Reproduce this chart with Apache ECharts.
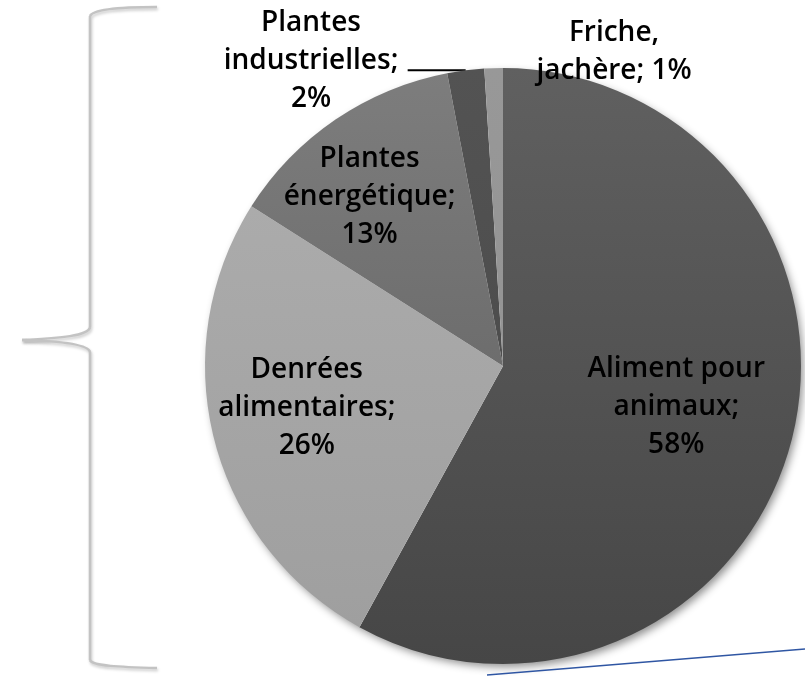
<!DOCTYPE html>
<html>
<head>
<meta charset="utf-8">
<script src="https://cdn.jsdelivr.net/npm/echarts@6/dist/echarts.min.js"></script>
<style>
html,body{margin:0;padding:0;background:#fff;}
#chart{width:805px;height:676px;}
</style>
</head>
<body>
<div id="chart"></div>
<script>
// ---- data ----
const categories = ['Aliment pour\nanimaux', 'Denrées\nalimentaires', 'Plantes\nénergétique', 'Plantes\nindustrielles', 'Friche,\njachère'];
const values = [58, 26, 13, 2, 1];

// ---- styles ----
function vgrad(top, bottom) {
  return { type: 'linear', x: 0, y: 0, x2: 0, y2: 1, colorStops: [
    { offset: 0, color: top }, { offset: 1, color: bottom }
  ] };
}
const sliceColors = [
  vgrad('#606060', '#464646'),
  vgrad('#ababab', '#9f9f9f'),
  vgrad('#7d7d7d', '#6d6d6d'),
  vgrad('#535353', '#4d4d4d'),
  vgrad('#989898', '#949494')
];
const labelOffsets = [[26, 3], [-49, 4], [-48, -43], [0, 0], [0, 0]];

const pieCenter = [503, 366];
const pieRadius = 298;

const chart = echarts.init(document.getElementById('chart'), null, { renderer: 'canvas' });

const dataItems = categories.map((c, i) => {
  const item = {
    name: c,
    value: values[i],
    itemStyle: { color: sliceColors[i] },
    label: { offset: labelOffsets[i] }
  };
  if (i >= 3) {
    item.label = { position: 'outside' };
    item.labelLine = { show: i === 3, length: 1, length2: 1, lineStyle: { color: '#000', width: 2 } };
  } else {
    item.labelLine = { show: false };
  }
  return item;
});

const total = values.reduce((a, b) => a + b, 0);

const braceStyle = {
  fill: 'none',
  stroke: '#c3c3c3',
  lineWidth: 2.5,
  shadowColor: 'rgba(0,0,0,0.22)',
  shadowBlur: 3,
  shadowOffsetX: 1,
  shadowOffsetY: 2
};

chart.setOption({
  animation: false,
  backgroundColor: '#ffffff',
  series: [
    {
      type: 'pie',
      silent: true,
      center: pieCenter,
      radius: pieRadius - 1,
      z: 1,
      label: { show: false },
      labelLine: { show: false },
      itemStyle: {
        color: '#ffffff',
        shadowColor: 'rgba(0,0,0,0.45)',
        shadowBlur: 9,
        shadowOffsetX: 3,
        shadowOffsetY: 4
      },
      data: [{ value: total, name: '' }]
    },
    {
      type: 'pie',
      silent: true,
      center: pieCenter,
      radius: pieRadius,
      startAngle: 90,
      clockwise: true,
      z: 2,
      avoidLabelOverlap: false,
      itemStyle: { borderWidth: 0 },
      emphasis: { disabled: true },
      label: {
        show: true,
        position: 'inside',
        color: '#000',
        fontFamily: 'Open Sans',
        fontWeight: 600,
        fontSize: 28,
        lineHeight: 38,
        align: 'center',
        formatter: function (p) {
          if (p.dataIndex === 4) return p.name + '; ' + p.value + '%';
          return p.name + ';\n' + p.value + '%';
        }
      },
      labelLayout: function (p) {
        if (p.dataIndex === 3) {
          const pts = p.labelLinePoints;
          const p0 = pts ? pts[0] : [465, 70];
          return {
            x: 311, y: 61, align: 'center', verticalAlign: 'middle',
            labelLinePoints: [[p0[0], p0[1]], [p0[0] - 58, p0[1]], [p0[0] - 58, p0[1]]]
          };
        }
        if (p.dataIndex === 4) {
          return { x: 614, y: 52, align: 'center', verticalAlign: 'middle' };
        }
      },
      data: dataItems
    }
  ],
  graphic: [
    { type: 'bezierCurve', z: 10, silent: true,
      shape: { x1: 157, y1: 7, cpx1: 120, cpy1: 7, cpx2: 93, cpy2: 9, x2: 90, y2: 16 }, style: braceStyle },
    { type: 'line', z: 10, silent: true,
      shape: { x1: 90, y1: 16, x2: 90, y2: 327 }, style: braceStyle },
    { type: 'bezierCurve', z: 10, silent: true,
      shape: { x1: 90, y1: 327, cpx1: 89, cpy1: 336, cpx2: 60, cpy2: 338, x2: 22, y2: 340 }, style: braceStyle },
    { type: 'bezierCurve', z: 10, silent: true,
      shape: { x1: 22, y1: 340, cpx1: 60, cpy1: 341, cpx2: 88, cpy2: 344, x2: 90, y2: 352 }, style: braceStyle },
    { type: 'line', z: 10, silent: true,
      shape: { x1: 90, y1: 352, x2: 90, y2: 660 }, style: braceStyle },
    { type: 'bezierCurve', z: 10, silent: true,
      shape: { x1: 90, y1: 660, cpx1: 92, cpy1: 666, cpx2: 120, cpy2: 667, x2: 157, y2: 668 }, style: braceStyle },
    { type: 'line', z: 10, silent: true,
      shape: { x1: 487, y1: 675, x2: 805, y2: 649 },
      style: { stroke: '#2f56a3', lineWidth: 1.5 } }
  ]
});
</script>
</body>
</html>
